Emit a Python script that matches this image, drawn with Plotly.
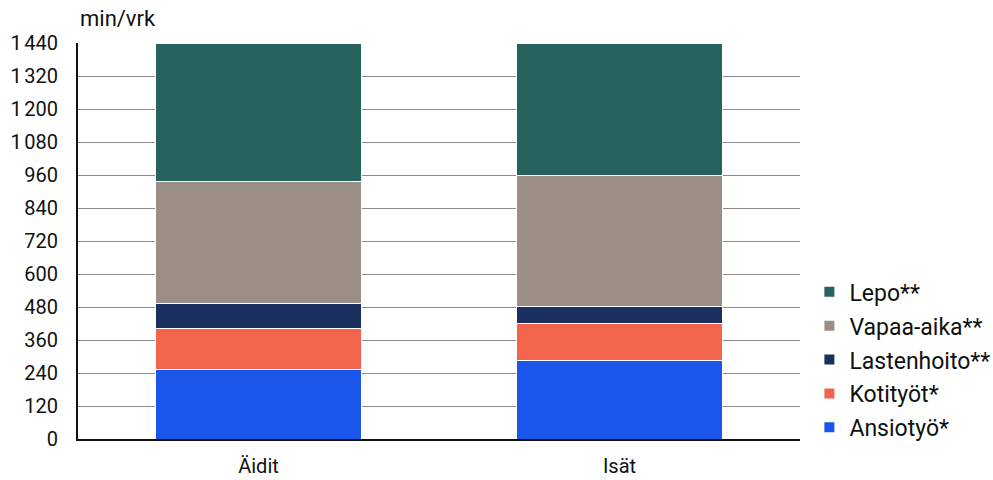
import plotly.graph_objects as go

# Time use of parents, minutes per day
groups = ["Äidit", "Isät"]
series_names = ["Ansiotyö*", "Kotityöt*", "Lastenhoito**", "Vapaa-aika**", "Lepo**"]
ansiotyo = [251, 287]
kotityot = [151, 132]
lastenhoito = [89, 63]
vapaa_aika = [447, 477]
lepo = [502, 481]
series_values = [ansiotyo, kotityot, lastenhoito, vapaa_aika, lepo]
colors = ["#1a56ea", "#f2654c", "#1b305e", "#9b8e87", "#26635e"]

tick_vals = [0, 120, 240, 360, 480, 600, 720, 840, 960, 1080, 1200, 1320, 1440]
tick_text = ["0", "120", "240", "360", "480", "600", "720", "840", "960",
             "1\u202f080", "1\u202f200", "1\u202f320", "1\u202f440"]

FONT = "Roboto, sans-serif"

fig = go.Figure()
n = len(series_names)
for i, (name, vals, col) in enumerate(zip(series_names, series_values, colors)):
    fig.add_trace(go.Bar(
        x=groups, y=vals, name=name, legendgroup=name,
        legendrank=1000 + (n - i),  # top segment listed first
        marker=dict(color=col, line=dict(color="white", width=1)),
    ))

fig.update_layout(
    width=993, height=480,
    barmode="stack", bargap=0.43,
    plot_bgcolor="white", paper_bgcolor="white",
    margin=dict(l=78, r=193, t=43, b=41, autoexpand=False),
    font=dict(family=FONT, size=20, color="#111"),
    showlegend=True,
    legend=dict(
        traceorder="grouped",
        x=1.013, xanchor="left", y=0.2, yanchor="middle",
        font=dict(size=23), itemsizing="constant",
        tracegroupgap=1,
    ),
    xaxis=dict(
        showline=True, linecolor="#111", linewidth=2,
        ticks="", tickfont=dict(size=20), ticklabelstandoff=8,
    ),
    yaxis=dict(
        range=[0, 1440], tickvals=tick_vals, ticktext=tick_text,
        showgrid=True, gridcolor="#8c8c8c", gridwidth=1,
        showline=True, linecolor="#111", linewidth=2,
        ticks="", tickfont=dict(size=20), zeroline=False,
        ticklabelstandoff=14,
    ),
    annotations=[dict(
        text="min/vrk", xref="paper", yref="paper", x=0.0, y=1.0,
        xanchor="left", yanchor="bottom", yshift=10, showarrow=False,
        font=dict(size=22, family=FONT),
    )],
)

fig.write_html("out.html")
